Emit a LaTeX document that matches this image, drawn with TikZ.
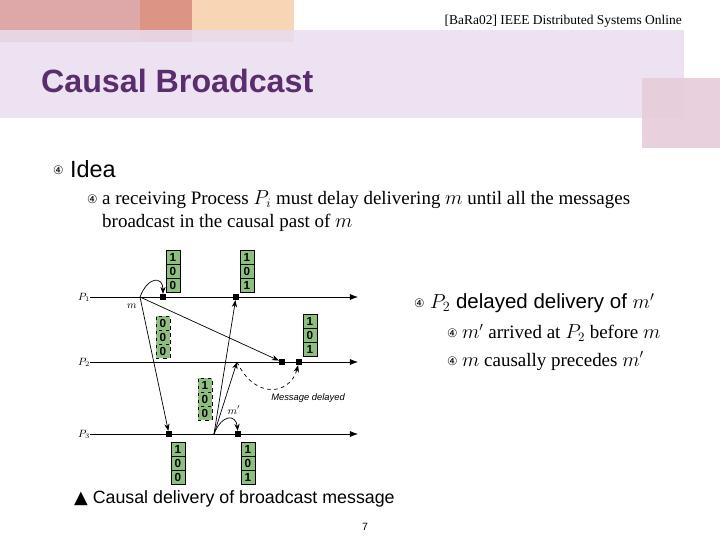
\documentclass[tikz,border=0pt]{standalone}
\usepackage{fontspec}
\setmainfont{Liberation Serif}
\setsansfont{Liberation Sans}
\newfontfamily\symfont{DejaVu Sans}
\usetikzlibrary{arrows.meta}
\definecolor{vgreen}{HTML}{8DC07E}
\definecolor{titlepurple}{HTML}{5A2D6E}
\definecolor{hpink}{HTML}{DFA8A8}
\definecolor{hsalmon}{HTML}{DC9584}
\definecolor{hpeach}{HTML}{F7D5B5}
\definecolor{band}{HTML}{EADDEF}
\definecolor{sq}{HTML}{E6CDD9}
\tikzset{
  line/.style={semithick,-{Latex[length=7pt]}},
  msg/.style={semithick,-{Stealth[length=6pt]}},
  event/.style={fill=black,minimum size=5pt,inner sep=0pt},
  cell/.style={draw,fill=vgreen,minimum width=12pt,minimum height=11.5pt,inner sep=0pt,font=\sffamily\bfseries},
  dcell/.style={cell,dashed},
  bul/.style={anchor=west,font=\symfont\normalsize},
  big/.style={font=\fontsize{16.2}{19}\selectfont}
}
\begin{document}
\begin{tikzpicture}[x=0.03cm,y=-0.03cm]
\useasboundingbox (0,0) rectangle (720,540);
% header
\fill[white] (0,0) rectangle (720,540);
\fill[hpink] (0,0) rectangle (140,42);
\fill[hsalmon] (140,0) rectangle (192,42);
\fill[hpeach] (192,0) rectangle (294,42);
\fill[band,opacity=0.85] (0,30) rectangle (684,118);
\fill[sq,opacity=0.9] (642,78) rectangle (720,148);
\node[anchor=east,font=\fontsize{11.5}{12}\selectfont] (src) at (686,21) {[BaRa02] IEEE Distributed Systems Online};
\node[anchor=west,font=\sffamily\bfseries\fontsize{27.5}{30}\selectfont,text=titlepurple] (title) at (37,81) {Causal Broadcast};
% bullets
\node[bul] (b1) at (49,170) {④};
\node[anchor=west,font=\sffamily\fontsize{20}{24}\selectfont] (idea) at (66,169) {Idea};
\node[bul] (b2) at (83,199) {④};
\node[anchor=north west,big,inner sep=0pt,align=left] (txt) at (102,190)
  {a receiving Process $P_i$ must delay delivering $m$ until all the messages\\[1pt]broadcast in the causal past of $m$};
% time lines
\foreach \p/\y/\s in {1/297/1,2/362/2,3/434/3}{
  \node[font=\sffamily\itshape\small] (lab\p) at (84,\y) {$P_{\s}$};
  \coordinate (s\p) at (90,\y);
  \coordinate (e\p) at (358,\y);
  \draw[line] (s\p) -- (e\p);
}
\coordinate (m) at (140,297);
\coordinate (mp) at (214,434);
\node[event] (d11) at (163,297) {};
\node[event] (d12) at (236,297) {};
\node[event] (d21) at (282,362) {};
\node[event] (d22) at (299,362) {};
\node[event] (d31) at (169,434) {};
\node[event] (d32) at (238,434) {};
\coordinate (r2) at (237,362);
\draw[msg] (m) -- (d21);
\draw[msg] (m) -- (d31);
\draw[msg] (m) .. controls (148,276) and (163,276) .. (d11);
\draw[msg] (mp) -- (d12);
\draw[msg] (mp) -- (r2);
\draw[msg] (mp) .. controls (222,414) and (236,414) .. (d32);
\draw[semithick,dashed,-{Stealth[length=6pt]}] (r2) .. controls (255,400) and (290,395) .. (d22);
\node[font=\sffamily\small] (mlab) at (132,306) {$m$};
\node[font=\sffamily\small] (mplab) at (234,410) {$m'$};
\node[font=\sffamily\itshape\footnotesize] (delay) at (308,398) {Message delayed};
% vector clocks
\foreach \n/\x/\y/\a/\b/\c/\st in {v1/173/250/1/0/0/cell, v2/247/250/1/0/1/cell,
    v3/163/316/0/0/0/dcell, v4/310/314/1/0/1/cell, v5/205/378/1/0/0/dcell,
    v6/178/442/1/0/0/cell, v7/248/442/1/0/1/cell}{
  \node[\st] (\n a) at (\x,\y+7) {\a};
  \node[\st] (\n b) at (\x,\y+21) {\b};
  \node[\st] (\n c) at (\x,\y+35) {\c};
}
% caption
\node[anchor=west,font=\sffamily\fontsize{15.2}{18}\selectfont] (cap) at (70,499) {{\symfont ▲} Causal delivery of broadcast message};
\node[font=\sffamily\small] (page) at (365,527) {7};
% right bullets
\node[bul] (b3) at (410,303) {④};
\node[anchor=west,font=\sffamily\fontsize{17.5}{20}\selectfont] (r1) at (426,303) {$P_2$ delayed delivery of $m'$};
\node[bul] (b4) at (443,333) {④};
\node[anchor=west,big] (r2t) at (458,333) {$m'$ arrived at $P_2$ before $m$};
\node[bul] (b5) at (443,361) {④};
\node[anchor=west,big] (r3t) at (458,361) {$m$ causally precedes $m'$};
\end{tikzpicture}
\end{document}
